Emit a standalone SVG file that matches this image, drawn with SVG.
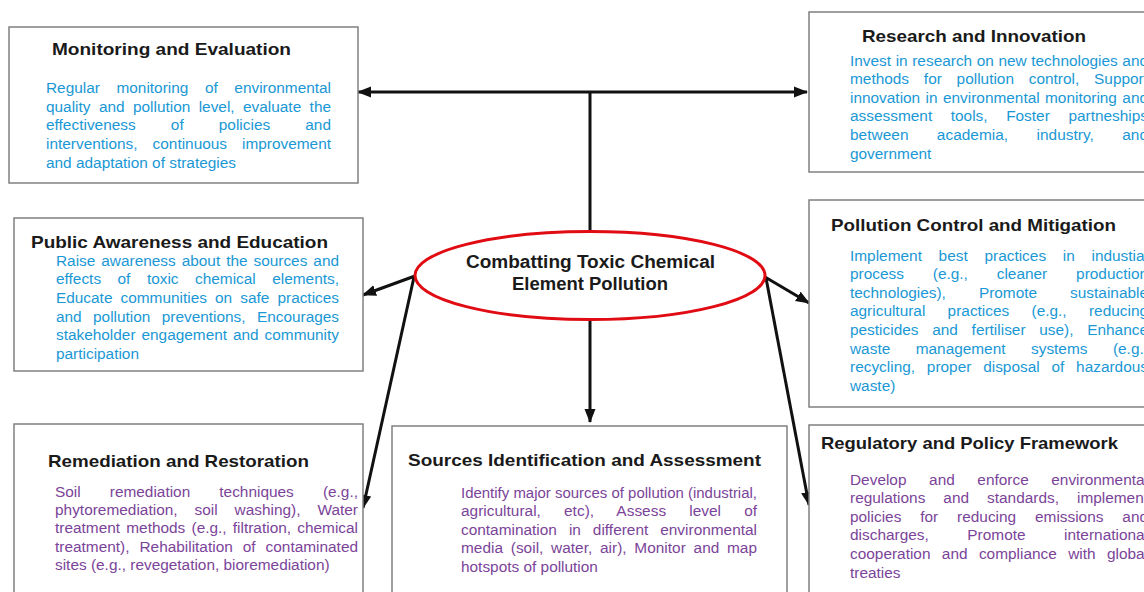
<svg xmlns="http://www.w3.org/2000/svg" width="1144" height="592" viewBox="0 0 1144 592">
<style>
.box{fill:#fff;stroke:#808080;stroke-width:1.5}
.t{font-family:"Liberation Sans",Arial,sans-serif;font-weight:bold;font-size:17px;fill:#1a1a1a}
.b{font-family:"Liberation Sans",Arial,sans-serif;font-size:15.4px;fill:#1a98d5}
.p{font-family:"Liberation Sans",Arial,sans-serif;font-size:15.4px;fill:#7b4499}
.c{font-family:"Liberation Sans",Arial,sans-serif;font-weight:bold;font-size:17.5px;fill:#1a1a1a}
.ln{fill:none;stroke:#111;stroke-width:3}
</style>
<defs>
<marker id="ah" markerUnits="userSpaceOnUse" markerWidth="14" markerHeight="12" refX="13" refY="6" orient="auto-start-reverse">
<path d="M0,0.5 L14,6 L0,11.5 Z" fill="#111"/>
</marker>
</defs>
<rect width="1144" height="592" fill="#fff"/>

<g id="connectors">
<path class="ln" d="M358,92 L807,92" stroke-width="3.5" marker-start="url(#ah)" marker-end="url(#ah)"/>
<path class="ln" d="M590,92 L590,232"/>
<path class="ln" d="M415,276 L363,295" marker-end="url(#ah)"/>
<path class="ln" d="M765,277 L809,303" marker-end="url(#ah)"/>
<path class="ln" d="M590,320 L590,422" marker-end="url(#ah)"/>
<path class="ln" d="M414,277 L363,508" marker-end="url(#ah)"/>
<path class="ln" d="M766,278 L809,505" marker-end="url(#ah)"/>
</g>

<g id="center">
<ellipse cx="590" cy="275.5" rx="175" ry="44" fill="#fff" stroke="#e00b13" stroke-width="3"/>
<text class="c" x="590.5" y="268" text-anchor="middle" textLength="249" lengthAdjust="spacingAndGlyphs">Combatting Toxic Chemical</text>
<text class="c" x="590" y="290" text-anchor="middle" textLength="156" lengthAdjust="spacingAndGlyphs">Element Pollution</text>
</g>

<g id="monitoring">
<rect class="box" x="9" y="27" width="349" height="156"/>
<text class="t" x="52" y="55" textLength="239" lengthAdjust="spacingAndGlyphs">Monitoring and Evaluation</text>
<text class="b" x="46" y="93" word-spacing="12.3" textLength="285" lengthAdjust="spacing">Regular monitoring of environmental</text>
<text class="b" x="46" y="111.7" word-spacing="4.1" textLength="285" lengthAdjust="spacing">quality and pollution level, evaluate the</text>
<text class="b" x="46" y="130.4" word-spacing="30.8" textLength="285" lengthAdjust="spacing">effectiveness of policies and</text>
<text class="b" x="46" y="149.1" word-spacing="10.7" textLength="285" lengthAdjust="spacing">interventions, continuous improvement</text>
<text class="b" x="46" y="167.8">and adaptation of strategies</text>
</g>

<g id="research">
<rect class="box" x="809" y="12" width="360" height="160"/>
<text class="t" x="862" y="41.5" textLength="224" lengthAdjust="spacingAndGlyphs">Research and Innovation</text>
<text class="b" x="850" y="65.5" word-spacing="0.3" textLength="298" lengthAdjust="spacing">Invest in research on new technologies and</text>
<text class="b" x="850" y="84.1" word-spacing="10.5" textLength="298" lengthAdjust="spacing">methods for pollution control, Support</text>
<text class="b" x="850" y="102.7" word-spacing="1.1" textLength="298" lengthAdjust="spacing">innovation in environmental monitoring and</text>
<text class="b" x="850" y="121.3" word-spacing="14.3" textLength="298" lengthAdjust="spacing">assessment tools, Foster partneships</text>
<text class="b" x="850" y="139.9" word-spacing="24" textLength="298" lengthAdjust="spacing">between academia, industry, and</text>
<text class="b" x="850" y="158.5">government</text>
</g>

<g id="public-awareness">
<rect class="box" x="14" y="218" width="349" height="153"/>
<text class="t" x="31" y="248" textLength="297" lengthAdjust="spacingAndGlyphs">Public Awareness and Education</text>
<text class="b" x="56" y="265.5" word-spacing="1.7" textLength="283" lengthAdjust="spacing">Raise awareness about the sources and</text>
<text class="b" x="56" y="284.2" word-spacing="12.2" textLength="283" lengthAdjust="spacing">effects of toxic chemical elements,</text>
<text class="b" x="56" y="302.9" word-spacing="3.85" textLength="283" lengthAdjust="spacing">Educate communities on safe practices</text>
<text class="b" x="56" y="321.6" word-spacing="7.1" textLength="283" lengthAdjust="spacing">and pollution preventions, Encourages</text>
<text class="b" x="56" y="340.3" word-spacing="1.7" textLength="283" lengthAdjust="spacing">stakeholder engagement and community</text>
<text class="b" x="56" y="359">participation</text>
</g>

<g id="pollution-control">
<rect class="box" x="809" y="200" width="360" height="207"/>
<text class="t" x="831" y="231" textLength="285" lengthAdjust="spacingAndGlyphs">Pollution Control and Mitigation</text>
<text class="b" x="850" y="260.5" word-spacing="12.4" textLength="298" lengthAdjust="spacing">Implement best practices in industial</text>
<text class="b" x="850" y="279.15" word-spacing="24.6" textLength="298" lengthAdjust="spacing">process (e.g., cleaner production</text>
<text class="b" x="850" y="297.8" word-spacing="28.7" textLength="298" lengthAdjust="spacing">technologies), Promote sustainable</text>
<text class="b" x="850" y="316.45" word-spacing="18" textLength="298" lengthAdjust="spacing">agricultural practices (e.g., reducing</text>
<text class="b" x="850" y="335.1" word-spacing="9.45" textLength="298" lengthAdjust="spacing">pesticides and fertiliser use), Enhance</text>
<text class="b" x="850" y="353.75" word-spacing="21.2" textLength="298" lengthAdjust="spacing">waste management systems (e.g.,</text>
<text class="b" x="850" y="372.4" word-spacing="7.5" textLength="298" lengthAdjust="spacing">recycling, proper disposal of hazardous</text>
<text class="b" x="850" y="391.05">waste)</text>
</g>

<g id="remediation">
<rect class="box" x="14" y="424" width="349" height="180"/>
<text class="t" x="48" y="467" textLength="261" lengthAdjust="spacingAndGlyphs">Remediation and Restoration</text>
<text class="p" x="55" y="496.5" word-spacing="24.8" textLength="303" lengthAdjust="spacing">Soil remediation techniques (e.g.,</text>
<text class="p" x="55" y="514.9" word-spacing="12.6" textLength="303" lengthAdjust="spacing">phytoremediation, soil washing), Water</text>
<text class="p" x="55" y="533.3" word-spacing="1.9" textLength="303" lengthAdjust="spacing">treatment methods (e.g., filtration, chemical</text>
<text class="p" x="55" y="551.7" word-spacing="5.7" textLength="303" lengthAdjust="spacing">treatment), Rehabilitation of contaminated</text>
<text class="p" x="55" y="570.1">sites (e.g., revegetation, bioremediation)</text>
</g>

<g id="sources">
<rect class="box" x="392" y="426" width="395" height="180"/>
<text class="t" x="408" y="466" textLength="353" lengthAdjust="spacingAndGlyphs">Sources Identification and Assessment</text>
<text class="p" x="461" y="498" textLength="296" lengthAdjust="spacingAndGlyphs">Identify major sources of pollution (industrial,</text>
<text class="p" x="461" y="516.4" word-spacing="18.8" textLength="296" lengthAdjust="spacing">agricultural, etc), Assess level of</text>
<text class="p" x="461" y="534.8" word-spacing="7.7" textLength="296" lengthAdjust="spacing">contamination in different environmental</text>
<text class="p" x="461" y="553.2" word-spacing="3.4" textLength="296" lengthAdjust="spacing">media (soil, water, air), Monitor and map</text>
<text class="p" x="461" y="571.6">hotspots of pollution</text>
</g>

<g id="regulatory">
<rect class="box" x="809" y="425" width="360" height="180"/>
<text class="t" x="821" y="449" textLength="297" lengthAdjust="spacingAndGlyphs">Regulatory and Policy Framework</text>
<text class="p" x="850" y="484.5" word-spacing="18.3" textLength="298" lengthAdjust="spacing">Develop and enforce environmental</text>
<text class="p" x="850" y="503.1" word-spacing="13.7" textLength="298" lengthAdjust="spacing">regulations and standards, implement</text>
<text class="p" x="850" y="521.7" word-spacing="14.6" textLength="298" lengthAdjust="spacing">policies for reducing emissions and</text>
<text class="p" x="850" y="540.3" word-spacing="34.3" textLength="298" lengthAdjust="spacing">discharges, Promote international</text>
<text class="p" x="850" y="558.9" word-spacing="7.1" textLength="298" lengthAdjust="spacing">cooperation and compliance with global</text>
<text class="p" x="850" y="577.5">treaties</text>
</g>
</svg>
